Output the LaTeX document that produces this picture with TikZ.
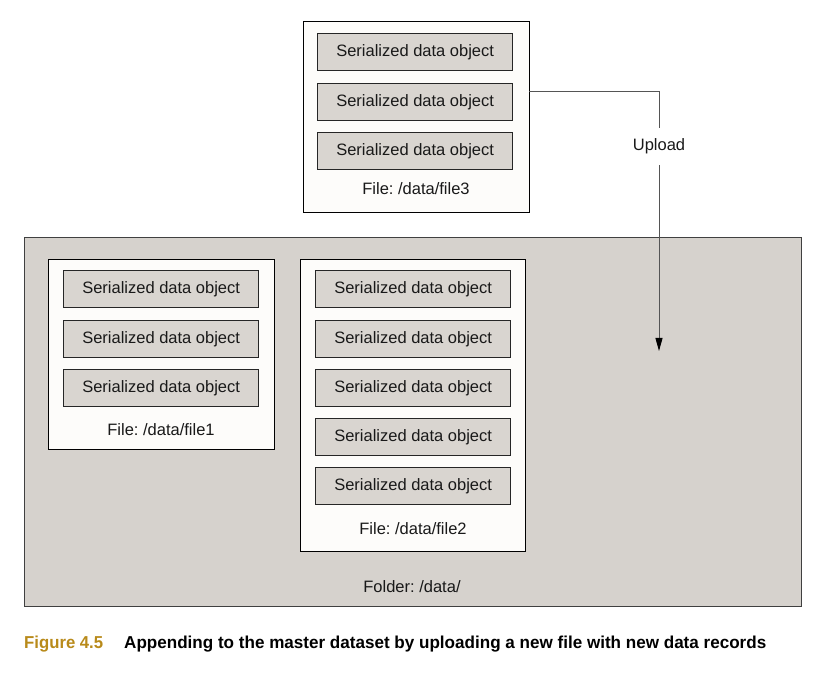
\documentclass[tikz,border=0pt]{standalone}
\usepackage{fontspec}
\usepackage{graphicx}
\setmainfont{Liberation Sans}
\usetikzlibrary{arrows.meta}
\definecolor{foldergray}{HTML}{D6D2CD}
\definecolor{objgray}{HTML}{D9D5D0}
\definecolor{filewhite}{HTML}{FDFCFA}
\definecolor{capgold}{HTML}{B88A1A}
\definecolor{linegray}{HTML}{555555}
\begin{document}
\frenchspacing
\begin{tikzpicture}[x=1pt,y=-1pt,
  txt/.style={font=\fontsize{16.5}{19}\selectfont, text=black!90},
  obj/.style={txt, draw=black!85, line width=1.3pt, fill=objgray, minimum width=195, minimum height=37, inner sep=0, anchor=north west},
  filebox/.style={draw=black, line width=1.2pt, fill=filewhite, inner sep=0, anchor=north west},
  folderbox/.style={draw=black!75, line width=1pt, fill=foldergray, inner sep=0, anchor=north west},
  upl/.style={draw=linegray, line width=0.9pt}
]
\useasboundingbox (0,0) rectangle (823,684);
% folder
\node[folderbox, minimum width=777, minimum height=369] (folder) at (24,237) {};
\node[txt] (folderlbl) at (412,587) {Folder: /data/};
% file3
\node[filebox, minimum width=226, minimum height=191] (f3) at (303,21) {};
\node[obj] (o31) at (317,33) {Serialized data object};
\node[obj] (o32) at (317,83) {Serialized data object};
\node[obj] (o33) at (317,132) {Serialized data object};
\node[txt] (f3lbl) at (416,189) {File: /data/file3};
% file1
\node[filebox, minimum width=226, minimum height=190] (f1) at (48,259) {};
\node[obj] (o11) at (63,270) {Serialized data object};
\node[obj] (o12) at (63,320) {Serialized data object};
\node[obj] (o13) at (63,369) {Serialized data object};
\node[txt] (f1lbl) at (161,430) {File: /data/file1};
% file2
\node[filebox, minimum width=225, minimum height=292] (f2) at (300,259) {};
\node[obj] (o21) at (315,270) {Serialized data object};
\node[obj] (o22) at (315,320) {Serialized data object};
\node[obj] (o23) at (315,369) {Serialized data object};
\node[obj] (o24) at (315,418) {Serialized data object};
\node[obj] (o25) at (315,467) {Serialized data object};
\node[txt] (f2lbl) at (413,529) {File: /data/file2};
% upload arrow
\coordinate (a0) at (529,91);
\coordinate (tip) at (659,351);
\node[txt, minimum height=37, inner sep=0] (up) at (659,146.5) {Upload};
\draw[upl] (a0) -| (up.north);
\draw[upl, -{Triangle[length=13pt,width=7pt,color=black]}] (up.south) -- (tip);
% caption
\node[inner sep=0, anchor=base west, text=capgold] (capfig) at (24,649) {\resizebox{79pt}{12.5pt}{\bfseries Figure 4.5}};
\node[inner sep=0, anchor=base west, text=black] (captxt) at (124,649) {\resizebox{642pt}{12.5pt}{\bfseries Appending to the master dataset by uploading a new file with new data records}};
\end{tikzpicture}
\end{document}
